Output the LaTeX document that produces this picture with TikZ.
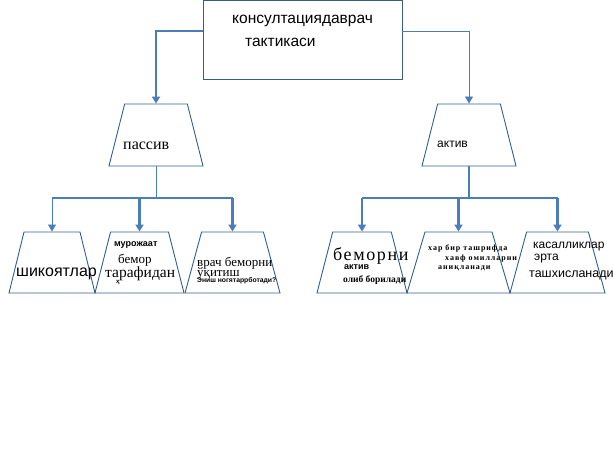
\documentclass[tikz,border=0pt]{standalone}
\usepackage{fontspec}
\setmainfont{Liberation Serif}
\setsansfont{Liberation Sans}
\newfontfamily\spacedserif[LetterSpace=12]{Liberation Serif}
\newfontfamily\wideserif[LetterSpace=9]{Liberation Serif}
\usetikzlibrary{shapes.geometric, arrows.meta}
\definecolor{edge}{HTML}{385D8A}
\definecolor{conn}{HTML}{4A7EBB}

\begin{document}
\begin{tikzpicture}[x=1pt, y=-1pt,
    trap/.style={draw=edge, line width=0.9pt, trapezium, trapezium stretches=true,
        trapezium left angle=76, trapezium right angle=76, inner sep=1pt, minimum height=62pt},
    low/.style={trap, minimum height=61pt, trapezium left angle=75, trapezium right angle=75},
    conn/.style={draw=conn, line width=0.9pt},
    bold/.style={conn, line width=2.4pt},
    arr/.style={-{Triangle[width=8pt, length=7pt]}},
    txt/.style={inner sep=0pt, anchor=west},
]
\useasboundingbox (0,0) rectangle (613,455);

% ── Top ──
\node[draw=edge, line width=0.9pt, minimum width=199pt, minimum height=79pt, inner sep=0pt] (top) at (302.5,40) {};
\node[txt, font=\sffamily\fontsize{15.5}{15.5}\selectfont] (t1) at (232,21) {консултациядаврач};
\node[txt, font=\sffamily\fontsize{15.5}{15.5}\selectfont] (t2) at (245,42) {тактикаси};

% ── Second level ──
\node[trap, minimum width=94pt] (pas) at (156,135) {};
\node[trap, minimum width=94pt] (act) at (469,135) {};
\node[txt, font=\fontsize{16}{16}\selectfont] (pastxt) at (123,146) {пассив};
\node[txt, font=\sffamily\fontsize{12}{12}\selectfont] (acttxt) at (437,144) {актив};

\draw[bold, arr] ([yshift=9pt]top.west) -| (pas.north);
\draw[conn, arr] ([yshift=9pt]top.east) -| (act.north);

% ── Passive branch ──
\node[low, minimum width=86pt] (p1) at (52,262.5) {};
\node[low, minimum width=89pt] (p2) at (139.5,262.5) {};
\node[low, minimum width=95pt] (p3) at (232.5,262.5) {};

\coordinate (psplit) at (156,198);
\draw[conn] (pas.south) -- (psplit);
\draw[bold] (p1.north |- psplit) -- (p3.north |- psplit);
\draw[conn, arr] (p1.north |- psplit) -- (p1.north);
\draw[bold, arr] (p2.north |- psplit) -- (p2.north);
\draw[bold, arr] (p3.north |- psplit) -- (p3.north);

\node[txt, font=\sffamily\fontsize{16}{16}\selectfont] (p1a) at (16,274) {шикоятлар};
\node[txt, font=\sffamily\bfseries\fontsize{9}{9}\selectfont] (p2a) at (114,245) {мурожаат};
\node[txt, font=\fontsize{13}{13}\selectfont] (p2b) at (118,260) {бемор};
\node[txt, font=\fontsize{15.5}{15.5}\selectfont] (p2c) at (105,274) {тарафидан};
\node[txt, font=\sffamily\bfseries\fontsize{6}{6}\selectfont] (p2d) at (116,283) {ҳ};
\node[txt, font=\fontsize{13}{13}\selectfont] (p3a) at (197,263) {врач беморни};
\node[txt, font=\fontsize{13}{13}\selectfont] (p3b) at (197,273) {ўқитиш};
\node[txt, font=\sffamily\bfseries\fontsize{6.8}{6.8}\selectfont] (p3c) at (197,281) {Эниш ногятаррботади?};

% ── Active branch ──
\node[low, minimum width=90pt] (a1) at (362,262.5) {};
\node[low, minimum width=103pt] (a2) at (458.5,262.5) {};
\node[low, minimum width=95pt] (a3) at (557.5,262.5) {};

\coordinate (asplit) at (469,198);
\draw[bold] (act.south) -- (asplit);
\draw[bold] (a1.north |- asplit) -- (a3.north |- asplit);
\draw[bold, arr] (a1.north |- asplit) -- (a1.north);
\draw[bold, arr] (a2.north |- asplit) -- (a2.north);
\draw[bold, arr] (a3.north |- asplit) -- (a3.north);

\node[txt, font=\wideserif\fontsize{18}{18}\selectfont] (a1a) at (333,256) {беморни};
\node[txt, font=\sffamily\bfseries\fontsize{9}{9}\selectfont] (a1b) at (344,267) {актив};
\node[txt, font=\bfseries\fontsize{9.5}{9.5}\selectfont] (a1c) at (343,280) {олиб борилади};
\node[txt, font=\spacedserif\bfseries\fontsize{8}{8}\selectfont] (a2a) at (428,248) {хар бир ташрифда};
\node[txt, font=\spacedserif\bfseries\fontsize{8}{8}\selectfont] (a2b) at (445,259) {хавф омилларни};
\node[txt, font=\spacedserif\bfseries\fontsize{8}{8}\selectfont] (a2c) at (438,268) {аниқланади};
\node[txt, font=\sffamily\fontsize{12}{12}\selectfont] (a3a) at (533,247) {касалликлар};
\node[txt, font=\sffamily\fontsize{12}{12}\selectfont] (a3b) at (534,259) {эрта};
\node[txt, font=\sffamily\fontsize{12.5}{12.5}\selectfont] (a3c) at (529,275) {ташхисланади};

\end{tikzpicture}
\end{document}
